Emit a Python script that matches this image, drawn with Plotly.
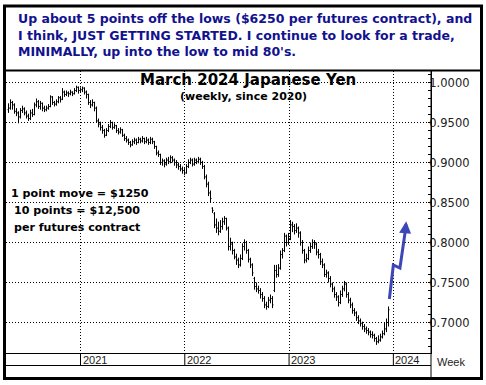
import plotly.graph_objects as go
import pandas as pd

# ---------------- data (weekly OHLC, March 2024 Japanese Yen) ----------------
first_week = "2020-04-24"

week_open = [
    0.966, 0.968, 0.975, 0.972, 0.964, 0.962, 0.957, 0.965, 0.967, 0.962,
    0.958, 0.955, 0.962, 0.960, 0.972, 0.976, 0.970, 0.974, 0.968, 0.966,
    0.968, 0.970, 0.982, 0.975, 0.973, 0.976, 0.981, 0.979, 0.988, 0.985,
    0.987, 0.986, 0.988, 0.986, 0.990, 0.994, 0.990, 0.991, 0.993, 0.988,
    0.985, 0.975, 0.972, 0.975, 0.968, 0.952, 0.948, 0.944, 0.940, 0.934,
    0.940, 0.945, 0.950, 0.944, 0.946, 0.940, 0.938, 0.941, 0.934, 0.930,
    0.928, 0.925, 0.922, 0.926, 0.928, 0.925, 0.929, 0.927, 0.930, 0.926,
    0.928, 0.925, 0.929, 0.926, 0.920, 0.912, 0.910, 0.900, 0.902, 0.898,
    0.903, 0.901, 0.906, 0.903, 0.900, 0.897, 0.895, 0.892, 0.890, 0.887,
    0.895, 0.900, 0.903, 0.898, 0.903, 0.901, 0.904, 0.900, 0.895, 0.882,
    0.873, 0.862, 0.843, 0.836, 0.822, 0.818, 0.814, 0.820, 0.826, 0.830,
    0.818, 0.795, 0.798, 0.790, 0.782, 0.778, 0.772, 0.780, 0.795, 0.800,
    0.790, 0.779, 0.772, 0.755, 0.745, 0.742, 0.740, 0.735, 0.730, 0.722,
    0.720, 0.728, 0.730, 0.740, 0.765, 0.760, 0.768, 0.785, 0.790, 0.808,
    0.800, 0.805, 0.822, 0.820, 0.815, 0.818, 0.812, 0.800, 0.790, 0.778,
    0.780, 0.790, 0.795, 0.800, 0.798, 0.788, 0.785, 0.776, 0.772, 0.760,
    0.762, 0.755, 0.748, 0.742, 0.735, 0.732, 0.725, 0.735, 0.742, 0.748,
    0.735, 0.728, 0.722, 0.715, 0.712, 0.706, 0.702, 0.699, 0.695, 0.692,
    0.690, 0.688, 0.685, 0.684, 0.680, 0.676, 0.678, 0.682, 0.686, 0.692,
    0.700,
]
week_high = [
    0.974, 0.979, 0.977, 0.974, 0.968, 0.964, 0.968, 0.971, 0.969, 0.965,
    0.961, 0.966, 0.967, 0.975, 0.980, 0.978, 0.977, 0.975, 0.971, 0.971,
    0.973, 0.984, 0.983, 0.977, 0.979, 0.983, 0.983, 0.993, 0.990, 0.990,
    0.989, 0.991, 0.989, 0.993, 0.996, 0.995, 0.994, 0.995, 0.994, 0.990,
    0.986, 0.978, 0.979, 0.976, 0.970, 0.955, 0.951, 0.947, 0.942, 0.943,
    0.948, 0.953, 0.951, 0.949, 0.947, 0.943, 0.944, 0.942, 0.936, 0.933,
    0.930, 0.927, 0.929, 0.931, 0.930, 0.932, 0.931, 0.933, 0.931, 0.932,
    0.930, 0.932, 0.931, 0.927, 0.921, 0.915, 0.911, 0.905, 0.904, 0.906,
    0.907, 0.909, 0.908, 0.905, 0.903, 0.900, 0.898, 0.895, 0.893, 0.898,
    0.904, 0.906, 0.905, 0.906, 0.905, 0.907, 0.906, 0.902, 0.897, 0.885,
    0.876, 0.865, 0.844, 0.838, 0.830, 0.826, 0.828, 0.831, 0.833, 0.831,
    0.820, 0.806, 0.801, 0.792, 0.786, 0.781, 0.785, 0.799, 0.804, 0.802,
    0.792, 0.781, 0.774, 0.757, 0.750, 0.746, 0.743, 0.738, 0.733, 0.726,
    0.732, 0.735, 0.733, 0.772, 0.772, 0.773, 0.790, 0.793, 0.812, 0.810,
    0.812, 0.828, 0.826, 0.823, 0.824, 0.820, 0.814, 0.803, 0.792, 0.786,
    0.795, 0.800, 0.804, 0.803, 0.800, 0.792, 0.787, 0.780, 0.774, 0.766,
    0.764, 0.758, 0.750, 0.745, 0.738, 0.734, 0.740, 0.746, 0.752, 0.750,
    0.738, 0.731, 0.725, 0.718, 0.714, 0.709, 0.705, 0.701, 0.698, 0.695,
    0.693, 0.690, 0.689, 0.686, 0.682, 0.684, 0.686, 0.690, 0.700, 0.705,
    0.720,
]
week_low = [
    0.962, 0.966, 0.966, 0.961, 0.958, 0.949, 0.955, 0.962, 0.959, 0.955,
    0.952, 0.953, 0.957, 0.959, 0.969, 0.967, 0.966, 0.964, 0.963, 0.964,
    0.966, 0.969, 0.972, 0.970, 0.971, 0.974, 0.975, 0.978, 0.982, 0.983,
    0.982, 0.984, 0.983, 0.985, 0.988, 0.986, 0.987, 0.988, 0.985, 0.980,
    0.972, 0.968, 0.970, 0.964, 0.950, 0.944, 0.940, 0.936, 0.931, 0.933,
    0.938, 0.943, 0.941, 0.942, 0.937, 0.935, 0.936, 0.932, 0.927, 0.925,
    0.922, 0.919, 0.921, 0.923, 0.922, 0.924, 0.924, 0.925, 0.923, 0.924,
    0.922, 0.923, 0.923, 0.917, 0.909, 0.907, 0.897, 0.896, 0.894, 0.896,
    0.898, 0.899, 0.900, 0.896, 0.893, 0.891, 0.889, 0.886, 0.884, 0.886,
    0.893, 0.898, 0.895, 0.896, 0.898, 0.899, 0.897, 0.892, 0.879, 0.869,
    0.858, 0.850, 0.837, 0.818, 0.812, 0.809, 0.812, 0.816, 0.822, 0.815,
    0.790, 0.790, 0.785, 0.779, 0.772, 0.768, 0.770, 0.778, 0.790, 0.786,
    0.775, 0.768, 0.758, 0.741, 0.738, 0.736, 0.730, 0.726, 0.718, 0.716,
    0.718, 0.724, 0.718, 0.738, 0.756, 0.757, 0.766, 0.780, 0.788, 0.795,
    0.797, 0.803, 0.813, 0.810, 0.812, 0.806, 0.796, 0.786, 0.774, 0.775,
    0.778, 0.787, 0.792, 0.792, 0.784, 0.780, 0.772, 0.768, 0.757, 0.756,
    0.750, 0.744, 0.738, 0.731, 0.727, 0.720, 0.723, 0.732, 0.739, 0.731,
    0.724, 0.718, 0.711, 0.708, 0.702, 0.698, 0.695, 0.691, 0.688, 0.686,
    0.684, 0.681, 0.680, 0.676, 0.672, 0.674, 0.676, 0.680, 0.684, 0.688,
    0.695,
]
week_close = [
    0.968, 0.975, 0.972, 0.964, 0.962, 0.957, 0.965, 0.967, 0.962, 0.958,
    0.955, 0.962, 0.960, 0.972, 0.976, 0.970, 0.974, 0.968, 0.966, 0.968,
    0.970, 0.982, 0.975, 0.973, 0.976, 0.981, 0.979, 0.988, 0.985, 0.987,
    0.986, 0.988, 0.986, 0.990, 0.994, 0.990, 0.991, 0.993, 0.988, 0.985,
    0.975, 0.972, 0.975, 0.968, 0.952, 0.948, 0.944, 0.940, 0.934, 0.940,
    0.945, 0.950, 0.944, 0.946, 0.940, 0.938, 0.941, 0.934, 0.930, 0.928,
    0.925, 0.922, 0.926, 0.928, 0.925, 0.929, 0.927, 0.930, 0.926, 0.928,
    0.925, 0.929, 0.926, 0.920, 0.912, 0.910, 0.900, 0.902, 0.898, 0.903,
    0.901, 0.906, 0.903, 0.900, 0.897, 0.895, 0.892, 0.890, 0.887, 0.895,
    0.900, 0.903, 0.898, 0.903, 0.901, 0.904, 0.900, 0.895, 0.882, 0.873,
    0.862, 0.855, 0.840, 0.822, 0.818, 0.814, 0.820, 0.826, 0.830, 0.818,
    0.795, 0.798, 0.790, 0.782, 0.778, 0.772, 0.780, 0.795, 0.800, 0.790,
    0.779, 0.772, 0.762, 0.745, 0.742, 0.740, 0.735, 0.730, 0.722, 0.720,
    0.728, 0.730, 0.722, 0.765, 0.760, 0.768, 0.785, 0.790, 0.808, 0.800,
    0.805, 0.822, 0.820, 0.815, 0.818, 0.812, 0.800, 0.790, 0.778, 0.780,
    0.790, 0.795, 0.800, 0.798, 0.788, 0.785, 0.776, 0.772, 0.760, 0.762,
    0.755, 0.748, 0.742, 0.735, 0.732, 0.725, 0.735, 0.742, 0.748, 0.735,
    0.728, 0.722, 0.715, 0.712, 0.706, 0.702, 0.699, 0.695, 0.692, 0.690,
    0.688, 0.685, 0.684, 0.680, 0.676, 0.678, 0.682, 0.686, 0.692, 0.700,
    0.716,
]

year_ticks = ["2021-01-01", "2022-01-01", "2023-01-01", "2024-01-01"]
year_labels = ["2021", "2022", "2023", "2024"]
price_ticks = [0.70, 0.75, 0.80, 0.85, 0.90, 0.95, 1.00]

# hand-drawn projection arrow (date, price)
arrow_dates = ["2023-12-18", "2024-01-01", "2024-01-24", "2024-02-12"]
arrow_prices = [0.7294, 0.7719, 0.7681, 0.8150]
arrow_tip_date = "2024-02-15"
arrow_tip_price = 0.8265

header_lines = [
    "Up about 5 points off the lows ($6250 per futures contract), and",
    "I think, JUST GETTING STARTED. I continue to look for a trade,",
    "MINIMALLY, up into the low to mid 80's.",
]
chart_title = "March 2024 Japanese Yen"
chart_subtitle = "(weekly, since 2020)"
note_lines = ["1 point move = $1250", "10 points = $12,500", "per futures contract"]

# ---------------- layout geometry (pixels) ----------------
W, H = 486, 385
PL, PR, PT, PB = 6, 431, 71, 353


def fx(x):
    return (x - PL) / (PR - PL)


def fy(y):
    return (PB - y) / (PB - PT)


# y range such that 1.0000 sits at y=82.5 and 0.7000 at y=322.5
units_per_px = 0.30 / 240.0
y_top = 1.0 + (82.5 - PT) * units_per_px
y_bot = y_top - (PB - PT) * units_per_px

# x range: exactly 2 px per week (3.5 days per px), bars on pixel centres
x_start = pd.Timestamp(first_week) - pd.Timedelta(days=8.75)
x_end = x_start + pd.Timedelta(days=3.5 * (PR - PL))

dates = pd.date_range(first_week, periods=len(week_close), freq="7D")

fig = go.Figure()
fig.add_trace(go.Ohlc(
    x=dates, open=week_open, high=week_high, low=week_low, close=week_close,
    increasing=dict(line=dict(color="black", width=1)),
    decreasing=dict(line=dict(color="black", width=1)),
    tickwidth=0.5, showlegend=False, hoverinfo="skip",
))

arrow_color = "#3d47b5"
fig.add_trace(go.Scatter(
    x=arrow_dates, y=arrow_prices, mode="lines",
    line=dict(color=arrow_color, width=3), showlegend=False, hoverinfo="skip",
))

annotations = []
annotations.append(dict(
    x=arrow_tip_date, y=arrow_tip_price, ax=arrow_dates[-1], ay=arrow_prices[-1],
    xref="x", yref="y", axref="x", ayref="y", text="", showarrow=True,
    arrowhead=2, arrowsize=0.8, arrowwidth=3, arrowcolor=arrow_color,
))

header_font = dict(family="DejaVu Sans", size=12.5, color="#12128e")
for line, yy in zip(header_lines, [18.5, 35.2, 51.9]):
    annotations.append(dict(
        x=fx(16), y=fy(yy), xref="paper", yref="paper", text="<b>" + line + "</b>",
        showarrow=False, xanchor="left", yanchor="middle", font=header_font,
    ))

annotations.append(dict(
    x=fx(247.5), y=fy(79.5), xref="paper", yref="paper", text="<b>" + chart_title + "</b>",
    showarrow=False, xanchor="center", yanchor="middle",
    font=dict(family="DejaVu Sans", size=15, color="black"),
))
annotations.append(dict(
    x=fx(243), y=fy(96.5), xref="paper", yref="paper", text="<b>" + chart_subtitle + "</b>",
    showarrow=False, xanchor="center", yanchor="middle",
    font=dict(family="DejaVu Sans", size=11, color="black"),
))

for line, xx, yy in zip(note_lines, [9.0, 12.0, 12.0], [193.5, 210.5, 227.0]):
    annotations.append(dict(
        x=fx(xx), y=fy(yy), xref="paper", yref="paper", text="<b>" + line + "</b>",
        showarrow=False, xanchor="left", yanchor="middle",
        font=dict(family="DejaVu Sans", size=11.1, color="black"),
    ))

for tv, lab in zip(year_ticks, year_labels):
    annotations.append(dict(
        x=tv, y=fy(360), xref="x", yref="paper", text=lab, showarrow=False,
        xanchor="left", yanchor="middle", xshift=0,
        font=dict(family="Liberation Sans", size=11, color="#222222"),
    ))

annotations.append(dict(
    x=fx(435), y=fy(362), xref="paper", yref="paper", text="Week", showarrow=False,
    xanchor="left", yanchor="middle",
    font=dict(family="Liberation Sans", size=11, color="#222222"),
))

shapes = []
# outer thick frame
shapes.append(dict(type="rect", xref="paper", yref="paper",
                   x0=fx(4.5), x1=fx(481.5), y0=fy(378.5), y1=fy(6),
                   line=dict(color="black", width=3), fillcolor="rgba(0,0,0,0)", layer="above"))
# header separator
shapes.append(dict(type="line", xref="paper", yref="paper",
                   x0=fx(3), x1=fx(483), y0=fy(70.5), y1=fy(70.5),
                   line=dict(color="black", width=2), layer="above"))
# bottom of date band
shapes.append(dict(type="line", xref="paper", yref="paper",
                   x0=fx(6), x1=fx(431), y0=fy(365.5), y1=fy(365.5),
                   line=dict(color="black", width=1), layer="above"))
# right vertical separator
shapes.append(dict(type="line", xref="paper", yref="paper",
                   x0=fx(431), x1=fx(431), y0=fy(71), y1=fy(378),
                   line=dict(color="black", width=1), layer="above"))
# year dividers in the date band
for tv in year_ticks:
    shapes.append(dict(type="line", xref="x", yref="paper",
                       x0=tv, x1=tv, y0=fy(353), y1=fy(366),
                       line=dict(color="black", width=1), layer="above"))

fig.update_layout(
    width=W, height=H,
    margin=dict(l=PL, r=W - PR, t=PT, b=H - PB, pad=0),
    paper_bgcolor="white", plot_bgcolor="white",
    showlegend=False, hovermode=False,
    annotations=annotations, shapes=shapes,
    xaxis=dict(
        type="date", range=[x_start, x_end],
        tickvals=year_ticks, showticklabels=False, ticks="",
        showgrid=True, gridcolor="black", gridwidth=1, griddash="1px,2px",
        showline=True, linecolor="black", linewidth=1, zeroline=False,
        rangeslider=dict(visible=False), fixedrange=True,
    ),
    yaxis=dict(
        side="right", range=[y_bot, y_top],
        tickvals=price_ticks, tickformat=".4f",
        ticks="inside", ticklen=3, tickcolor="black", tickwidth=1,
        minor=dict(dtick=0.01, ticks="inside", ticklen=3, tickcolor="black", showgrid=False),
        showgrid=True, gridcolor="black", gridwidth=1, griddash="1px,2px",
        showline=True, linecolor="black", linewidth=1, zeroline=False,
        tickfont=dict(family="DejaVu Sans", size=11.5, color="#222222"),
        ticklabelstandoff=-5,
        fixedrange=True,
    ),
)

fig.write_html(
    "out.html",
    config={"displayModeBar": False, "staticPlot": True},
    post_script="document.body.style.margin='0';document.body.style.padding='0';",
)
